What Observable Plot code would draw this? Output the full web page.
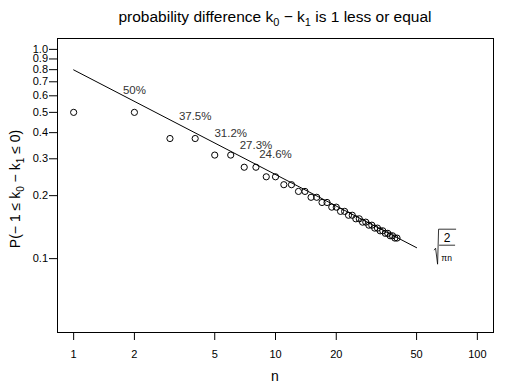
<!DOCTYPE html>
<html><head><meta charset="utf-8">
<script src="https://cdn.jsdelivr.net/npm/d3@7"></script>
<script src="https://cdn.jsdelivr.net/npm/@observablehq/plot@0.6"></script>
<style>body{margin:0;background:#fff;}</style>
</head><body><div id="chart"></div>
<script>
const nValues = [1,2,3,4,5,6,7,8,9,10,11,12,13,14,15,16,17,18,19,20,21,22,23,24,25,26,27,28,29,30,31,32,33,34,35,36,37,38,39,40];
const pValues = [0.5,0.5,0.375,0.375,0.3125,0.3125,0.2734,0.2734,0.2461,0.2461,0.2256,0.2256,0.2095,0.2095,0.1964,0.1964,0.1855,0.1855,0.1762,0.1762,0.1682,0.1682,0.1612,0.1612,0.1550,0.1550,0.1494,0.1494,0.1445,0.1445,0.1399,0.1399,0.1358,0.1358,0.1321,0.1321,0.1286,0.1286,0.1254,0.1254];
const lineN = [1, 50];
const lineP = [0.798, 0.1128];
const labelN = [2, 4, 6, 8, 10];
const labelP = [0.5, 0.375, 0.3125, 0.2734, 0.2461];
const labelText = ["50%", "37.5%", "31.2%", "27.3%", "24.6%"];
const xTicks = [1, 2, 5, 10, 20, 50, 100];
const yTicks = [0.1, 0.2, 0.3, 0.4, 0.5, 0.6, 0.7, 0.8, 0.9, 1.0];

const points = nValues.map((n, i) => ({n, p: pValues[i]}));
const lineData = lineN.map((n, i) => ({n, p: lineP[i]}));
const labels = labelN.map((n, i) => ({n, p: labelP[i], t: labelText[i]}));
const fmt = d3.format(".1f");

const font = "'Liberation Sans', Arial, sans-serif";
const plot = Plot.plot({
  width: 513, height: 390,
  marginLeft: 57, marginRight: 20, marginTop: 38, marginBottom: 58,
  style: {fontFamily: font, fontSize: "11px", background: "#fff", color: "#000"},
  x: {type: "log", domain: [Math.pow(10, -0.08), Math.pow(10, 2.08)], label: null},
  y: {type: "log", domain: [Math.pow(10, -1.353), Math.pow(10, 0.052)], label: null},
  marks: [
    Plot.axisX({ticks: xTicks, tickFormat: d => String(d), tickSize: 8, tickPadding: 10, label: null}),
    Plot.axisY({ticks: yTicks, tickFormat: () => "", tickSize: 8, label: null}),
    Plot.text(yTicks, {y: d => d, text: d => fmt(d), frameAnchor: "left", textAnchor: "end", dx: -9.5, fontSize: 11, fill: "#000"}),
    Plot.frame({stroke: "#000", strokeWidth: 1}),
    Plot.line(lineData, {x: "n", y: "p", stroke: "#000", strokeWidth: 1}),
    Plot.dot(points, {x: "n", y: "p", r: 3.1, stroke: "#000", fill: "none", strokeWidth: 1}),
    Plot.text(labels, {x: "n", y: "p", text: "t", dy: -22, fontSize: 11.5, fill: "#333"})
  ]
});
document.getElementById("chart").appendChild(plot);

const svg = d3.select(plot);
const xs = plot.scale("x"), ys = plot.scale("y");
const cx = (xs.range[0] + xs.range[1]) / 2;
const cy = (ys.range[0] + ys.range[1]) / 2;

function sub(t, s, size) {
  t.append("tspan").attr("dy", 4).style("font-size", size).text(s);
  return t;
}
// title
const title = svg.append("text").attr("x", cx).attr("y", 22).attr("text-anchor", "middle")
  .style("font-size", "15.5px").style("font-family", font).attr("fill", "#000");
title.append("tspan").text("probability difference k");
sub(title, "0", "11px");
title.append("tspan").attr("dy", -4).text(" \u2212 k");
sub(title, "1", "11px");
title.append("tspan").attr("dy", -4).text(" is 1 less or equal");

// x label
svg.append("text").attr("x", cx).attr("y", 381).attr("text-anchor", "middle")
  .style("font-size", "14px").style("font-family", font).text("n");

// y label
const yl = svg.append("text").attr("transform", `translate(20,${cy + 4}) rotate(-90)`)
  .attr("text-anchor", "middle").style("font-size", "14px").style("font-family", font);
yl.append("tspan").text("P(\u2212 1 \u2264 k");
sub(yl, "0", "10px");
yl.append("tspan").attr("dy", -4).text(" \u2212 k");
sub(yl, "1", "10px");
yl.append("tspan").attr("dy", -4).text(" \u2264 0)");

// formula sqrt(2/(pi n)) next to the line end
const fx = xs.apply(50) + 18, fy = ys.apply(0.1128);
const g = svg.append("g").attr("fill", "none").attr("stroke", "#000").attr("stroke-width", 0.8);
g.append("path").attr("d", `M${fx},${fy + 3} L${fx + 1.5},${fy + 1} L${fx + 3.5},${fy + 17} L${fx + 4.5},${fy - 18} L${fx + 22},${fy - 18}`);
g.append("line").attr("x1", fx + 5).attr("x2", fx + 21).attr("y1", fy - 2).attr("y2", fy - 2);
svg.append("text").attr("x", fx + 13).attr("y", fy - 5).attr("text-anchor", "middle")
  .style("font-size", "12px").style("font-family", font).text("2");
svg.append("text").attr("x", fx + 12.5).attr("y", fy + 14).attr("text-anchor", "middle")
  .style("font-size", "8.5px").style("font-family", font).text("\u03c0n");
</script>
</body></html>
